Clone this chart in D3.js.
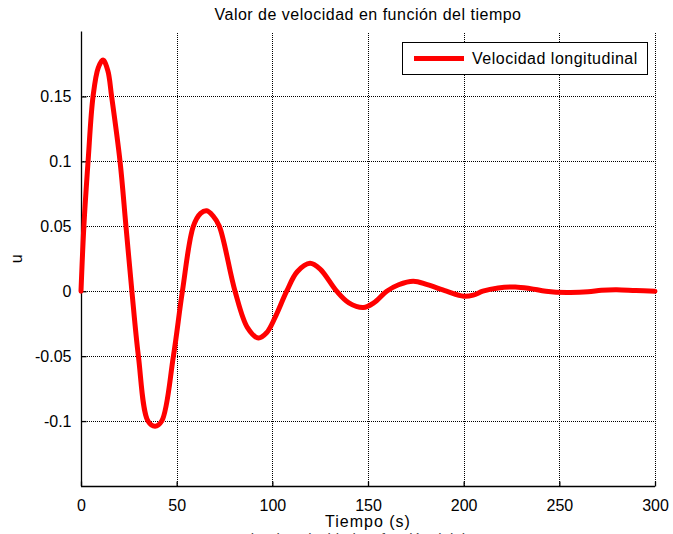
<!DOCTYPE html>
<html>
<head>
<meta charset="utf-8">
<script src="https://cdn.jsdelivr.net/npm/d3@7"></script>
<style>
  html, body { margin: 0; padding: 0; background: #fff; overflow: hidden; }
  svg { display: block; font-family: "Liberation Sans", Arial, Helvetica, sans-serif; }
</style>
</head>
<body>
<svg id="chart" width="673" height="534"></svg>
<script>
// Time samples (s) and longitudinal velocity u
const tiempo = [0, 1.5, 3.7, 6.3, 9, 11.5, 14, 16, 20.4, 23.5, 26.6, 30, 35, 38.7, 42.2, 48.3, 53,
  58.7, 62.5, 65.7, 69, 72.3, 80.5, 87, 92.7, 97, 101.5, 107.5, 113, 119.7, 125, 133.6, 140,
  147.6, 153, 159.8, 166, 173.7, 181, 191, 200, 205, 210, 218, 227, 235, 243, 254, 265, 272,
  280, 290, 300];
const velocidad = [0, 0.05, 0.10, 0.15, 0.172, 0.178, 0.170, 0.15, 0.10, 0.05, 0, -0.05, -0.10,
  -0.104, -0.10, -0.05, 0, 0.05, 0.060, 0.062, 0.058, 0.05, 0, -0.028, -0.036, -0.032, -0.02, 0,
  0.015, 0.0215, 0.017, 0, -0.009, -0.0126, -0.009, 0, 0.005, 0.0077, 0.005, 0, -0.0038, -0.003,
  0, 0.0025, 0.0033, 0.002, 0, -0.001, -0.0005, 0.0008, 0.0012, 0.0005, 0];

const xTicks = [0, 50, 100, 150, 200, 250, 300];
const yTicks = [-0.1, -0.05, 0, 0.05, 0.1, 0.15];
const yTickLabels = ["-0.1", "-0.05", "0", "0.05", "0.1", "0.15"];

const titulo = "Valor de velocidad en función del tiempo";
const etiquetaX = "Tiempo (s)";
const etiquetaY = "u";
const leyenda = "Velocidad longitudinal";

const svg = d3.select("#chart");
const margin = { left: 81, right: 18, top: 31.5, bottom: 48 };
const W = 673, H = 534;

const x = d3.scaleLinear().domain([0, 300]).range([margin.left, W - margin.right]);
const y = d3.scaleLinear().domain([-0.15, 0.2]).range([H - margin.bottom, margin.top]);

const fontSize = 16;

// dotted grid
const grid = svg.append("g").attr("stroke", "#000").attr("stroke-width", 1)
  .attr("stroke-dasharray", "1,1").attr("shape-rendering", "crispEdges");
xTicks.filter(d => d !== 0).forEach(d => {
  grid.append("line").attr("x1", Math.round(x(d)) + 0.5).attr("x2", Math.round(x(d)) + 0.5)
    .attr("y1", y(-0.15)).attr("y2", y(0.2));
});
yTicks.forEach(d => {
  grid.append("line").attr("y1", Math.round(y(d)) + 0.5).attr("y2", Math.round(y(d)) + 0.5)
    .attr("x1", x(0)).attr("x2", x(300));
});

// axes with inward ticks
const xAxis = d3.axisBottom(x).tickValues(xTicks).tickSize(-5).tickPadding(13)
  .tickFormat(d3.format("d"));
const yAxis = d3.axisLeft(y).tickValues(yTicks).tickSize(-5).tickPadding(10)
  .tickFormat((d, i) => yTickLabels[i]);

const gx = svg.append("g").attr("transform", `translate(0,${Math.round(y(-0.15)) + 0.5})`).call(xAxis);
const gy = svg.append("g").attr("transform", `translate(${Math.round(x(0)) + 0.5},0)`).call(yAxis);
[gx, gy].forEach(g => {
  g.select(".domain").attr("stroke", "#000").attr("stroke-width", 1.3);
  g.selectAll(".tick line").attr("stroke", "#000").attr("stroke-width", 1.3);
  g.selectAll(".tick text").attr("font-size", fontSize).attr("fill", "#000")
    .attr("font-family", "'Liberation Sans', Arial, sans-serif");
});
gx.select(".domain").attr("d", `M${x(0)},0H${x(300)}`);
gy.select(".domain").attr("d", `M0,${y(-0.15)}V${y(0.2)}`);

// data line
const pts = tiempo.map((t, i) => [t, velocidad[i]]);
const line = d3.line().x(d => x(d[0])).y(d => y(d[1])).curve(d3.curveCatmullRom.alpha(0.5));
svg.append("path").datum(pts).attr("d", line).attr("fill", "none")
  .attr("stroke", "#ff0000").attr("stroke-width", 5).attr("stroke-linejoin", "round")
  .attr("stroke-linecap", "round");

// title and labels
const cx = (x(0) + x(300)) / 2;
svg.append("text").attr("x", cx).attr("y", 20).attr("text-anchor", "middle")
  .attr("font-size", fontSize).attr("letter-spacing", 0.5).text(titulo);
svg.append("text").attr("x", cx).attr("y", 527).attr("text-anchor", "middle")
  .attr("font-size", fontSize).attr("letter-spacing", 1).text(etiquetaX);
svg.append("text").attr("transform", `translate(22,${(y(-0.15) + y(0.2)) / 2}) rotate(-90)`)
  .attr("text-anchor", "middle").attr("font-size", fontSize).text(etiquetaY);
// second caption, running past the lower edge of the page
svg.append("text").attr("x", cx).attr("y", 544).attr("text-anchor", "middle")
  .attr("font-size", 15).attr("fill", "#444").text(titulo);

// legend
const lg = svg.append("g");
lg.append("rect").attr("x", 402.5).attr("y", 42.5).attr("width", 245).attr("height", 32)
  .attr("fill", "#fff").attr("stroke", "#000").attr("stroke-width", 1);
lg.append("line").attr("x1", 414).attr("x2", 464).attr("y1", 58.5).attr("y2", 58.5)
  .attr("stroke", "#ff0000").attr("stroke-width", 5);
lg.append("text").attr("x", 472).attr("y", 64).attr("font-size", 16)
  .attr("letter-spacing", 0.5).text(leyenda);
</script>
</body>
</html>
